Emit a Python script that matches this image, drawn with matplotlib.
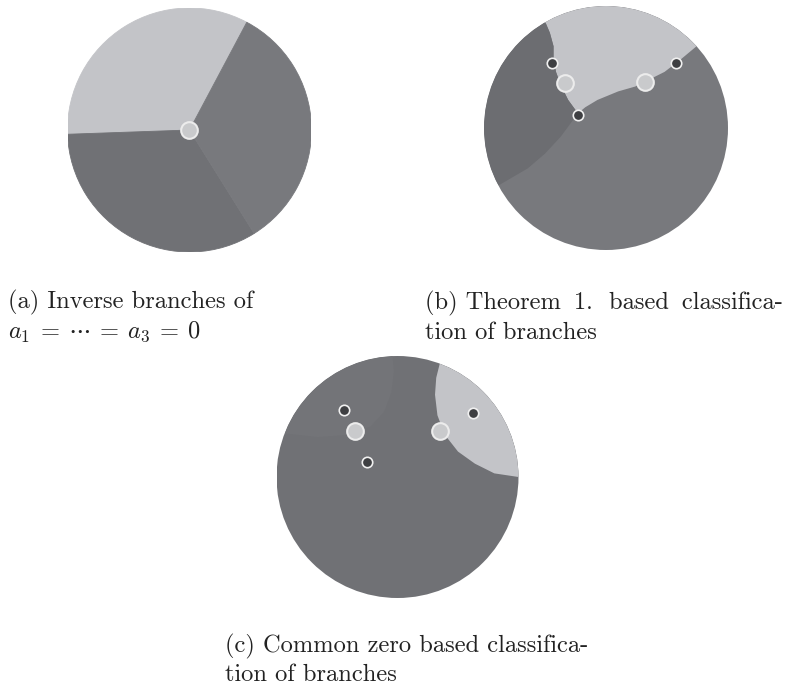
import numpy as np
import matplotlib
matplotlib.use("Agg")
import matplotlib.pyplot as plt
from matplotlib.patches import Circle, Wedge, Polygon

plt.rcParams['font.family'] = ['cmr10', 'DejaVu Serif']
plt.rcParams['mathtext.fontset'] = 'cm'
plt.rcParams['axes.unicode_minus'] = False

W, H = 788, 689

# colours
light = '#c3c4c8'
mid = '#78797d'
dark = '#707175'
dark2 = '#6c6d71'

# (a) three inverse branches: sector edges in degrees
a_edges = [62, 182, 302, 422]
a_colors = [light, dark, mid]
a_zero = [(0.0, 0.0)]

# (b) region boundaries, unit-disk coordinates
b_left_u = [-0.49, -0.46, -0.43, -0.43, -0.41, -0.37, -0.31, -0.23]
b_left_v = [0.85, 0.78, 0.67, 0.57, 0.46, 0.35, 0.23, 0.12]
b_right_u = [-0.23, -0.17, -0.07, 0.10, 0.24, 0.32, 0.48, 0.61, 0.73]
b_right_v = [0.12, 0.17, 0.23, 0.30, 0.34, 0.38, 0.46, 0.56, 0.66]
b_low_u = [-0.23, -0.37, -0.50, -0.64, -0.88]
b_low_v = [0.12, -0.07, -0.21, -0.33, -0.47]
b_crit = [(-0.44, 0.53), (0.57, 0.53), (-0.23, 0.11)]
b_zero = [(-0.34, 0.37), (0.32, 0.38)]

# (c) region boundaries
c_light_u = [0.35, 0.32, 0.31, 0.33, 0.39, 0.50, 0.64, 0.80, 1.0]
c_light_v = [0.94, 0.82, 0.68, 0.51, 0.35, 0.21, 0.11, 0.03, 0.0]
c_tl_u = [-0.04, -0.03, -0.05, -0.11, -0.22, -0.38, -0.66, -0.93]
c_tl_v = [1.0, 0.87, 0.70, 0.54, 0.42, 0.35, 0.33, 0.36]
c_crit = [(-0.44, 0.55), (-0.25, 0.12), (0.62, 0.53)]
c_zero = [(-0.35, 0.38), (0.35, 0.38)]

ts = "\u2009"
captions = [
    (8, 308, 338, "(a) Inverse branches of",
     r"$a_1\:=\:\cdots\:=\:a_3\:=\:0$"),
    (425, 309, 339, f"(b) Theorem {ts}1.  based {ts}classifica-", "tion of branches"),
    (225, 652, 681, "(c) Common zero based classifica-", "tion of branches"),
]


def arc(t0, t1, n=60):
    t = np.radians(np.linspace(t0, t1, n))
    return np.column_stack([np.cos(t), np.sin(t)])


def make_ax(fig, cx, cy, r):
    ax = fig.add_axes([(cx - r) / W, 1 - (cy + r) / H, 2 * r / W, 2 * r / H])
    ax.set_xlim(-1, 1)
    ax.set_ylim(-1, 1)
    ax.set_aspect('equal')
    ax.axis('off')
    return ax


def markers(ax, crit, zero):
    for u, v in zero:
        ax.plot(u, v, 'o', ms=12, mfc='#c9cacc', mec='#ececec', mew=1.5, zorder=5)
    for u, v in crit:
        ax.plot(u, v, 'o', ms=7.5, mfc='#3e3f42', mec='#f0f0f0', mew=1.2, zorder=5)


fig = plt.figure(figsize=(W / 100, H / 100), dpi=100)

# (a)
ax = make_ax(fig, 189.5, 130, 122)
for i in range(3):
    ax.add_patch(Wedge((0, 0), 1, a_edges[i], a_edges[i + 1], fc=a_colors[i],
                       ec=a_colors[i], lw=0.6))
markers(ax, [], a_zero)

# (b)
ax = make_ax(fig, 606, 128, 122)
disk = Circle((0, 0), 1, transform=ax.transData)
ax.add_patch(Circle((0, 0), 1, color=mid, lw=0))
a_r = np.degrees(np.arctan2(b_right_v[-1], b_right_u[-1]))
a_l = np.degrees(np.arctan2(b_left_v[0], b_left_u[0]))
pts = np.vstack([np.column_stack([b_right_u, b_right_v]), arc(a_r, a_l),
                 np.column_stack([b_left_u, b_left_v])])
p = Polygon(pts, color=light, lw=0)
ax.add_patch(p)
p.set_clip_path(disk)
a_low = np.degrees(np.arctan2(b_low_v[-1], b_low_u[-1])) % 360
pts = np.vstack([np.column_stack([b_left_u, b_left_v]),
                 np.column_stack([b_low_u[1:], b_low_v[1:]]),
                 arc(a_low, a_l)])
p = Polygon(pts, color=dark2, lw=0)
ax.add_patch(p)
p.set_clip_path(disk)
markers(ax, b_crit, b_zero)

# (c)
ax = make_ax(fig, 397.5, 477, 121)
disk = Circle((0, 0), 1, transform=ax.transData)
ax.add_patch(Circle((0, 0), 1, color=dark, lw=0))
a0 = np.degrees(np.arctan2(c_tl_v[0], c_tl_u[0]))
a1 = np.degrees(np.arctan2(c_tl_v[-1], c_tl_u[-1]))
pts = np.vstack([np.column_stack([c_tl_u, c_tl_v]), arc(a1, a0)])
p = Polygon(pts, color='#737478', lw=0)
ax.add_patch(p)
p.set_clip_path(disk)
a0 = np.degrees(np.arctan2(c_light_v[0], c_light_u[0]))
pts = np.vstack([np.column_stack([c_light_u, c_light_v]), arc(0, a0)])
p = Polygon(pts, color=light, lw=0)
ax.add_patch(p)
p.set_clip_path(disk)
markers(ax, c_crit, c_zero)

for x, y1, y2, l1, l2 in captions:
    fig.text(x / W, 1 - y1 / H, l1, fontsize=17.6, va='baseline', color='#222222')
    fig.text(x / W, 1 - y2 / H, l2, fontsize=17.6, va='baseline', color='#222222')

fig.savefig('out.png', dpi=100)
